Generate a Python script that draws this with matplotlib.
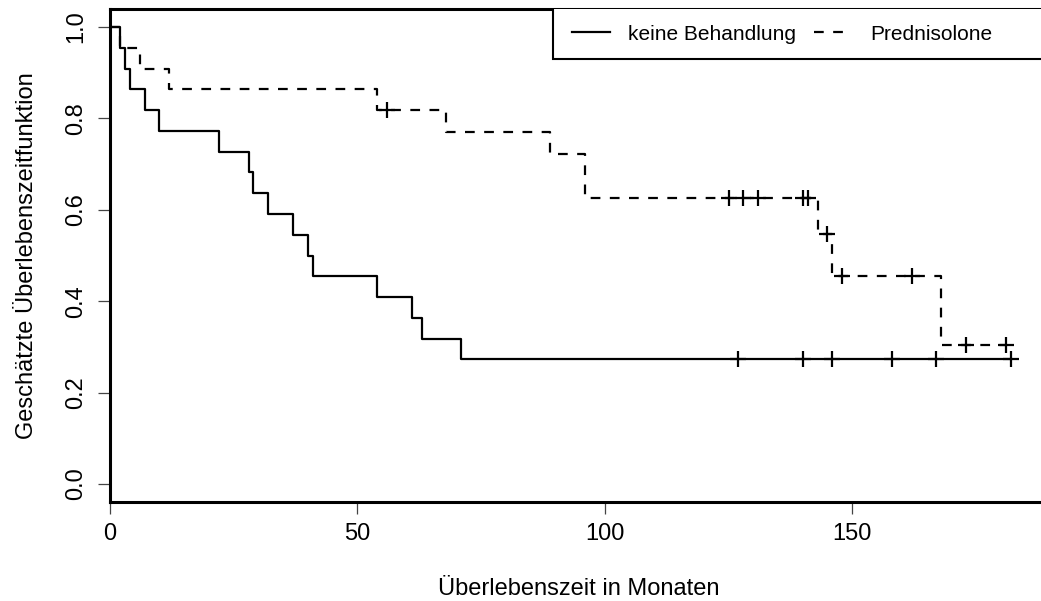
import matplotlib
matplotlib.use("Agg")
import matplotlib.pyplot as plt
from matplotlib.patches import Rectangle
import numpy as np

# survival times in months, status 1 = event, 0 = censored (+)
kontrolle_zeit = [2, 3, 4, 7, 10, 22, 28, 29, 32, 37, 40, 41, 54, 61, 63, 71,
                  127, 140, 146, 158, 167, 182]
kontrolle_status = [1] * 16 + [0] * 6
pred_zeit = [2, 6, 12, 54, 56, 68, 89, 96, 96, 125, 128, 131, 140, 141, 143,
             145, 146, 148, 162, 168, 173, 181]
pred_status = [1, 1, 1, 1, 0, 1, 1, 1, 1, 0, 0, 0, 0, 0, 1,
               0, 1, 0, 0, 1, 0, 0]

gruppen = ["keine Behandlung", "Prednisolone"]
x_ticks = [0, 50, 100, 150]
y_ticks = [0.0, 0.2, 0.4, 0.6, 0.8, 1.0]


def kaplan_meier(zeit, status):
    zeit = np.asarray(zeit)
    status = np.asarray(status)
    t_stufe = [0.0]
    s_stufe = [1.0]
    s = 1.0
    for t in np.unique(zeit):
        n = np.sum(zeit >= t)
        d = np.sum((zeit == t) & (status == 1))
        if d > 0:
            s = s * (1 - d / n)
            t_stufe.append(t)
            s_stufe.append(s)
    t_stufe.append(zeit.max())
    s_stufe.append(s)
    # censored points
    t_cens = zeit[status == 0]
    s_cens = []
    for t in t_cens:
        idx = np.searchsorted(t_stufe[:-1], t, side="right") - 1
        s_cens.append(s_stufe[idx])
    return np.array(t_stufe), np.array(s_stufe), t_cens, np.array(s_cens)


plt.rcParams['font.family'] = ['Liberation Sans', 'DejaVu Sans']
plt.rcParams['font.size'] = 17
plt.rcParams['lines.scale_dashes'] = False

W, H = 1041, 601
fig = plt.figure(figsize=(W / 100, H / 100), dpi=100)
ax = fig.add_axes([110 / W, (H - 502.3) / H, 936.7 / W, 493.6 / H])

stile = [dict(linestyle="-"), dict(linestyle=(0, (7, 6.8)))]
daten = [(kontrolle_zeit, kontrolle_status), (pred_zeit, pred_status)]

handles = []
for (zeit, status), name, st in zip(daten, gruppen, stile):
    t, s, tc, sc = kaplan_meier(zeit, status)
    h, = ax.plot(t, s, drawstyle="steps-post", color="black", lw=1.6,
                 label=name, **st)
    ax.plot(tc, sc, "+", color="black", ms=12, mew=1.6)
    handles.append(h)

ax.set_xlim(0, 189.3)
ax.set_ylim(-0.04, 1.04)
ax.set_xticks(x_ticks)
ax.set_xticklabels([str(v) for v in x_ticks])
ax.set_yticks(y_ticks)
ax.set_yticklabels(["%.1f" % v for v in y_ticks], rotation=90, va="center")
ax.tick_params(axis="both", length=8.6, width=0.9, color="#444444",
               labelsize=17)
ax.tick_params(axis="x", pad=6.6)
ax.tick_params(axis="y", pad=7.9)
for sp in ax.spines.values():
    sp.set_linewidth(2.2)

ax.set_xlabel("Überlebenszeit in Monaten", va="center", fontsize=17)
ax.xaxis.set_label_coords(0.5, -(589 - 502.3) / 493.6)
ax.set_ylabel("Geschätzte Überlebenszeitfunktion", va="center", fontsize=17)
ax.yaxis.set_label_coords((27 - 110) / 936.7, 0.5)

# legend box like R's horizontal legend
ax.add_patch(Rectangle(((553 - 110) / 936.7, (502.3 - 59) / 493.6),
                       1.0, 1.0, transform=ax.transAxes, facecolor="white",
                       edgecolor="black", lw=1.5, zorder=4, clip_on=True))
leg = ax.legend(handles=handles, loc="center left", ncol=2, frameon=False,
                fontsize=15,
                bbox_to_anchor=((572 - 110) / 936.7, (502.3 - 34) / 493.6),
                borderaxespad=0, borderpad=0, handlelength=38 / 20.83,
                handletextpad=18 / 20.83, columnspacing=18 / 20.83)
leg.set_zorder(5)

fig.savefig("out.png", dpi=100)
